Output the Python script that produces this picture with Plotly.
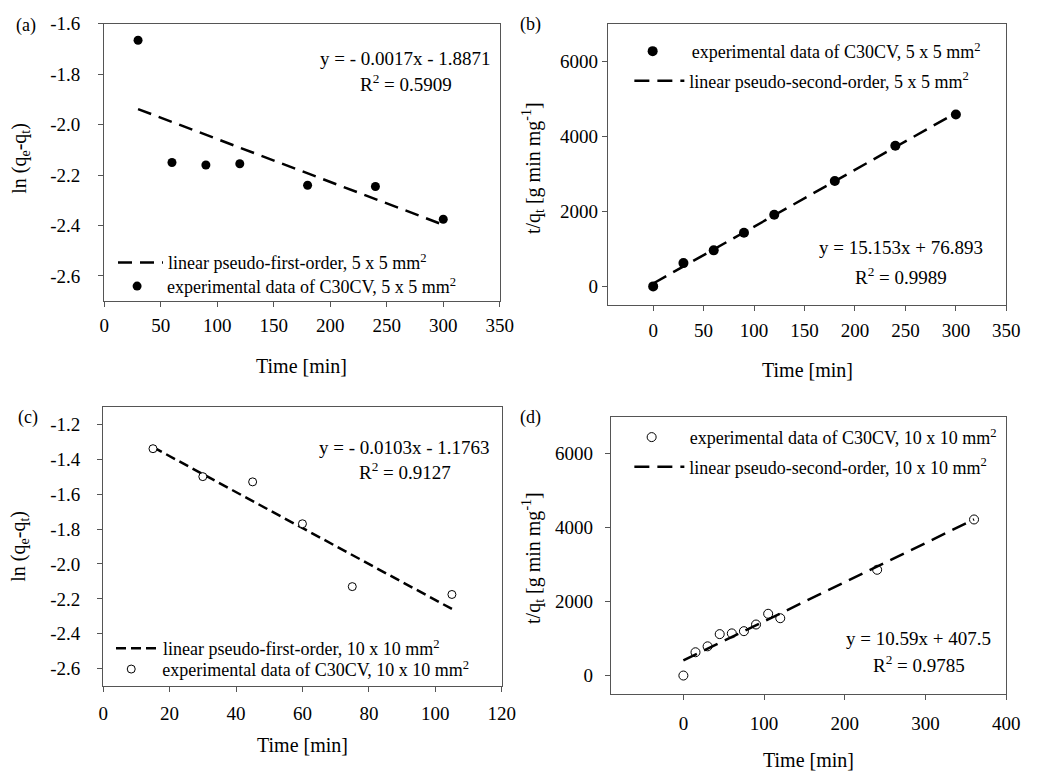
import plotly.graph_objects as go

W, H = 1038, 773

# ---------- data ----------
# (a) pseudo-first-order, 5 x 5 mm2
a_time = [30, 60, 90, 120, 180, 240, 300]
a_lnq = [-1.665, -2.15, -2.16, -2.155, -2.24, -2.245, -2.375]
a_fit_x = [30, 300]
a_fit_y = [-1.938, -2.397]

# (b) pseudo-second-order, 5 x 5 mm2
b_time = [0, 30, 60, 90, 120, 180, 240, 300]
b_tq = [0, 620, 960, 1430, 1910, 2810, 3750, 4580]
b_fit_x = [0, 300]
b_fit_y = [76.9, 4622.8]

# (c) pseudo-first-order, 10 x 10 mm2
c_time = [15, 30, 45, 60, 75, 105]
c_lnq = [-1.34, -1.50, -1.53, -1.77, -2.13, -2.175]
c_fit_x = [15, 105]
c_fit_y = [-1.331, -2.258]

# (d) pseudo-second-order, 10 x 10 mm2
d_time = [0, 15, 30, 45, 60, 75, 90, 105, 120, 240, 360]
d_tq = [0, 630, 790, 1120, 1140, 1200, 1380, 1670, 1550, 2860, 4220]
d_fit_x = [0, 360]
d_fit_y = [407.5, 4219.9]

# tick labels
a_yticks = [-2.6, -2.4, -2.2, -2.0, -1.8, -1.6]
a_ytext = ["-2.6", "-2.4", "-2.2", "-2.0", "-1.8", "-1.6"]
c_yticks = [-2.6, -2.4, -2.2, -2.0, -1.8, -1.6, -1.4, -1.2]
c_ytext = ["-2.6", "-2.4", "-2.2", "-2.0", "-1.8", "-1.6", "-1.4", "-1.2"]
ab_xticks = [0, 50, 100, 150, 200, 250, 300, 350]
c_xticks = [0, 20, 40, 60, 80, 100, 120]
d_xticks = [0, 100, 200, 300, 400]
bd_yticks = [0, 2000, 4000, 6000]

FONT = "Liberation Serif"
AXC = "#555555"


def px(x):
    return x / W


def py(y):
    return 1 - y / H


fig = go.Figure()

# (a)
fig.add_trace(go.Scatter(x=a_fit_x, y=a_fit_y, mode="lines", xaxis="x", yaxis="y",
                         line=dict(color="black", width=2.5, dash="14px,8px"),
                         name="linear pseudo-first-order, 5 x 5 mm<sup>2</sup>",
                         legend="legend"))
fig.add_trace(go.Scatter(x=a_time, y=a_lnq, mode="markers", xaxis="x", yaxis="y",
                         marker=dict(color="black", size=9),
                         name="experimental data of C30CV, 5 x 5 mm<sup>2</sup>",
                         legend="legend2"))
# (b)
fig.add_trace(go.Scatter(x=b_time, y=b_tq, mode="markers", xaxis="x2", yaxis="y2",
                         marker=dict(color="black", size=10),
                         name="experimental data of C30CV, 5 x 5 mm<sup>2</sup>",
                         legend="legend3"))
fig.add_trace(go.Scatter(x=b_fit_x, y=b_fit_y, mode="lines", xaxis="x2", yaxis="y2",
                         line=dict(color="black", width=2.5, dash="15px,8px"),
                         name="linear pseudo-second-order, 5 x 5 mm<sup>2</sup>",
                         legend="legend4"))
# (c)
fig.add_trace(go.Scatter(x=c_fit_x, y=c_fit_y, mode="lines", xaxis="x3", yaxis="y3",
                         line=dict(color="black", width=2.5, dash="10px,5px"),
                         name="linear pseudo-first-order, 10 x 10 mm<sup>2</sup>",
                         legend="legend5"))
fig.add_trace(go.Scatter(x=c_time, y=c_lnq, mode="markers", xaxis="x3", yaxis="y3",
                         marker=dict(color="white", size=8, line=dict(color="black", width=1)),
                         name="experimental data of C30CV, 10 x 10 mm<sup>2</sup>",
                         legend="legend6"))
# (d)
fig.add_trace(go.Scatter(x=d_time, y=d_tq, mode="markers", xaxis="x4", yaxis="y4",
                         marker=dict(color="white", size=9, line=dict(color="black", width=1)),
                         name="experimental data of C30CV, 10 x 10 mm<sup>2</sup>",
                         legend="legend7"))
fig.add_trace(go.Scatter(x=d_fit_x, y=d_fit_y, mode="lines", xaxis="x4", yaxis="y4",
                         line=dict(color="black", width=2.5, dash="15px,8px"),
                         name="linear pseudo-second-order, 10 x 10 mm<sup>2</sup>",
                         legend="legend8"))


def axis(domain, rng, tickvals, anchor, standoff=0, ticktext=None):
    d = dict(domain=domain, range=rng, tickvals=tickvals, anchor=anchor,
             showgrid=False, zeroline=False, showline=True, mirror=True,
             linecolor=AXC, linewidth=1, ticks="outside", ticklen=5,
             tickcolor=AXC, tickfont=dict(family=FONT, size=19, color="black"),
             ticklabelstandoff=standoff)
    if ticktext:
        d["ticktext"] = ticktext
    return d


fig.update_layout(
    width=W, height=H, margin=dict(l=0, r=0, t=0, b=0),
    paper_bgcolor="white", plot_bgcolor="white", showlegend=True,
    font=dict(family=FONT, color="black"),
    xaxis=axis([px(101), px(504)], [0, 350], ab_xticks, "y", 2),
    yaxis=axis([py(295), py(14)], [-2.7, -1.6], a_yticks, "x", 14, a_ytext),
    xaxis2=axis([px(614), px(1020)], [-45, 350], ab_xticks, "y2", 3),
    yaxis2=axis([py(299), py(14)], [-500, 7000], bd_yticks, "x2", 0),
    xaxis3=axis([px(100), px(506)], [0, 120], c_xticks, "y3", 5),
    yaxis3=axis([py(685), py(402)], [-2.7, -1.1], c_yticks, "x3", 13, c_ytext),
    xaxis4=axis([px(617), px(1020)], [-90, 400], d_xticks, "y4", 7),
    yaxis4=axis([py(693), py(412)], [-500, 7000], bd_yticks, "x4", 8),
)


def leg(x, y, w):
    return dict(x=px(x), y=py(y), xanchor="left", yanchor="middle",
                bgcolor="rgba(0,0,0,0)", borderwidth=0,
                font=dict(family=FONT, size=18, color="black"),
                itemwidth=w)


fig.update_layout(legend=leg(110, 256, 45), legend2=leg(104, 280, 50),
                  legend3=leg(620, 42, 68), legend4=leg(636, 72, 50),
                  legend5=leg(108, 647, 42), legend6=leg(97, 668, 52),
                  legend7=leg(620, 433, 66), legend8=leg(636, 463, 50))

ann = []


def note(text, x, y, size, angle=0):
    ann.append(dict(text=text, x=px(x), y=py(y), xref="paper", yref="paper",
                    showarrow=False, xanchor="center", yanchor="middle", align="center",
                    textangle=angle, font=dict(family=FONT, size=size, color="black")))


for t, x, y in [("(a)", 21, 16), ("(b)", 535, 15), ("(c)", 23, 413), ("(d)", 535, 413)]:
    note(t, x, y, 18)
for x, y in [(302, 361), (817, 365), (303, 745), (818, 760)]:
    note("Time [min]", x, y, 20)
for t, x, y in [("ln (q<sub>e</sub>-q<sub>t</sub>)", 15, 150),
                ("t/q<sub>t</sub> [g min mg<sup>-1</sup>]", 538, 160),
                ("ln (q<sub>e</sub>-q<sub>t</sub>)", 15, 543),
                ("t/q<sub>t</sub> [g min mg<sup>-1</sup>]", 538, 555)]:
    note(t, x, y, 20, -90)
for t1, t2, x, y1, y2 in [("y = - 0.0017x - 1.8871", "R<sup>2</sup> = 0.5909", 408, 49, 74),
                          ("y = 15.153x + 76.893", "R<sup>2</sup> = 0.9989", 913, 241, 269),
                          ("y = - 0.0103x - 1.1763", "R<sup>2</sup> = 0.9127", 407, 443, 467),
                          ("y = 10.59x + 407.5", "R<sup>2</sup> = 0.9785", 931, 637, 663)]:
    note(t1, x, y1, 19)
    note(t2, x, y2, 19)
fig.update_layout(annotations=ann)

fig.write_html(
    "out.html", config={"displayModeBar": False},
    post_script=("document.body.style.margin='0';"
                 "var gd=document.getElementById('{plot_id}');"
                 "gd.style.position='fixed';gd.style.top='0';gd.style.left='0';"),
)
